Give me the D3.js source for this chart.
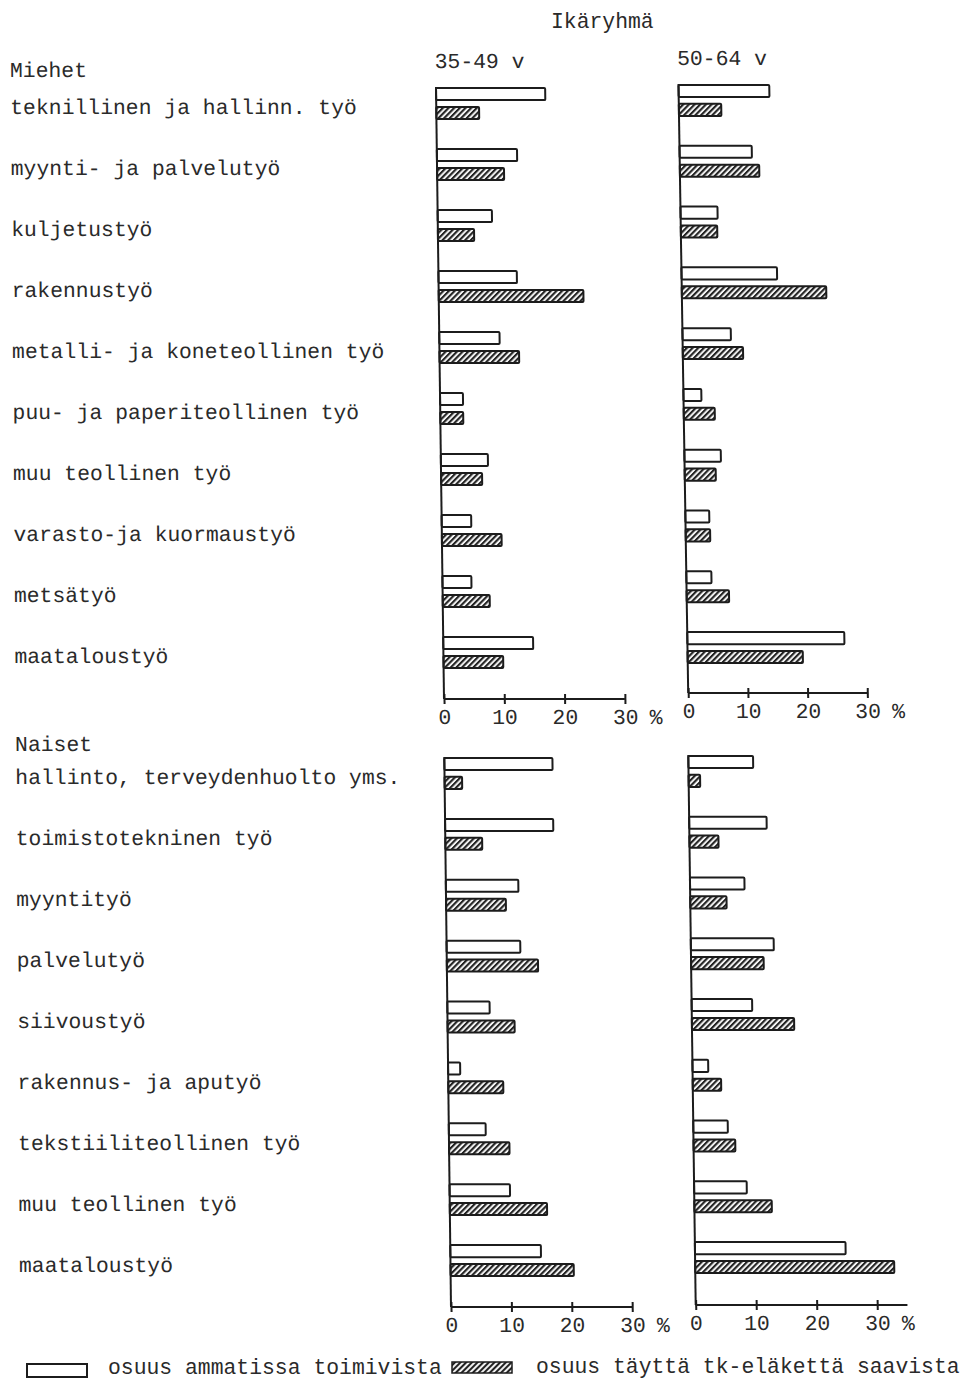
<!DOCTYPE html>
<html><head><meta charset="utf-8">
<script src="https://cdn.jsdelivr.net/npm/d3@7"></script>
<style>
html,body{margin:0;padding:0;background:#fff;}
svg{display:block;}
text{font-family:"Liberation Mono","DejaVu Sans Mono",monospace;fill:#2a2a2a;}
</style>
</head><body>
<svg id="chart" width="965" height="1381"></svg>
<script>
// ---------- data ----------
const title = "Ikäryhmä";
const ageGroups = ["35-49 v", "50-64 v"];
const sexGroups = ["Miehet", "Naiset"];
const seriesNames = ["osuus ammatissa toimivista", "osuus täyttä tk-eläkettä saavista"];
const tickValues = [0, 10, 20, 30];
const unitLabel = "%";

const menCategories = [
  "teknillinen ja hallinn. työ",
  "myynti- ja palvelutyö",
  "kuljetustyö",
  "rakennustyö",
  "metalli- ja koneteollinen työ",
  "puu- ja paperiteollinen työ",
  "muu teollinen työ",
  "varasto-ja kuormaustyö",
  "metsätyö",
  "maataloustyö"
];
const men3549Share   = [18.1, 13.3, 9.0, 13.0, 10.0, 3.8, 7.8, 4.9, 4.8, 14.9];
const men3549Pension = [7.1, 11.1, 6.0, 24.0, 13.2, 3.8, 6.8, 9.9, 7.8, 9.9];
const men5064Share   = [15.2, 12.1, 6.2, 16.0, 8.1, 3.0, 6.1, 4.0, 4.2, 26.3];
const men5064Pension = [7.1, 13.3, 6.1, 24.2, 10.1, 5.2, 5.2, 4.1, 7.1, 19.3];

const womenCategories = [
  "hallinto, terveydenhuolto yms.",
  "toimistotekninen työ",
  "myyntityö",
  "palvelutyö",
  "siivoustyö",
  "rakennus- ja aputyö",
  "tekstiiliteollinen työ",
  "muu teollinen työ",
  "maataloustyö"
];
const women3549Share   = [17.9, 17.9, 12.0, 12.2, 7.0, 2.0, 6.1, 10.0, 15.0];
const women3549Pension = [2.9, 6.1, 9.9, 15.1, 11.1, 9.1, 10.0, 16.1, 20.4];
const women5064Share   = [10.7, 12.8, 9.0, 13.7, 10.0, 2.6, 5.7, 8.7, 24.9];
const women5064Pension = [1.9, 4.8, 6.0, 12.0, 16.9, 4.7, 6.9, 12.8, 32.9];

// ---------- layout ----------
const INK = "#1c1c1c";
const FONT = 21.4;
const panels = [
  {cats: menCategories, share: men3549Share, pension: men3549Pension, header: ageGroups[0],
   x0: 436, y0: 88, y1: 668, axisY: 699, ppu: 6.03, slope: 8/611, axisEnd: 30},
  {cats: menCategories, share: men5064Share, pension: men5064Pension, header: ageGroups[1],
   x0: 678.5, y0: 85, y1: 663, axisY: 693, ppu: 5.97, slope: 9.7/608, axisEnd: 30},
  {cats: womenCategories, share: women3549Share, pension: women3549Pension, header: null,
   x0: 444.3, y0: 758, y1: 1276, axisY: 1307, ppu: 6.04, slope: 6.7/549, axisEnd: 30},
  {cats: womenCategories, share: women5064Share, pension: women5064Pension, header: null,
   x0: 688.3, y0: 756, y1: 1273, axisY: 1305, ppu: 6.05, slope: 7.4/549, axisEnd: 35}
];

const svg = d3.select("#chart");
const defs = svg.append("defs");
const pat = defs.append("pattern").attr("id", "hatch")
  .attr("patternUnits", "userSpaceOnUse").attr("width", 4).attr("height", 4)
  .attr("patternTransform", "rotate(45)");
pat.append("rect").attr("width", 4).attr("height", 4).attr("fill", "#f4f4f4");
pat.append("line").attr("x1", 1).attr("x2", 1).attr("y1", 0).attr("y2", 4)
  .attr("stroke", "#222").attr("stroke-width", 2.1);

// title
svg.append("text").attr("x", 551).attr("y", 28).attr("font-size", FONT).text(title);

const yScales = [];
panels.forEach((p, pi) => {
  const y = d3.scaleBand().domain(p.cats).range([p.y0, p.y1]).paddingInner(30 / 61).paddingOuter(0);
  yScales.push(y);
  const sub = d3.scaleBand().domain(["share", "pension"]).range([0, y.bandwidth()]).paddingInner(0.36);
  const x = d3.scaleLinear().domain([0, 30]).range([0, 30 * p.ppu]);
  const deg = Math.atan(p.slope) * 180 / Math.PI;
  const g = svg.append("g")
    .attr("transform", `translate(${p.x0},${p.y0}) skewX(${deg}) translate(0,${-p.y0})`);

  const rows = p.cats.map((c, i) => ({cat: c, share: p.share[i], pension: p.pension[i]}));

  g.selectAll("rect.share").data(rows).join("rect").attr("class", "share")
    .attr("x", x(0)).attr("y", d => y(d.cat) + sub("share"))
    .attr("width", d => x(d.share) - x(0)).attr("height", sub.bandwidth())
    .attr("rx", 1).attr("fill", "#fff").attr("stroke", INK).attr("stroke-width", 2);

  g.selectAll("rect.pension").data(rows).join("rect").attr("class", "pension")
    .attr("x", x(0)).attr("y", d => y(d.cat) + sub("pension"))
    .attr("width", d => x(d.pension) - x(0)).attr("height", sub.bandwidth())
    .attr("rx", 1).attr("fill", "url(#hatch)").attr("stroke", INK).attr("stroke-width", 2);

  // vertical axis
  g.append("line").attr("x1", x(0)).attr("x2", x(0)).attr("y1", p.y0 - 1).attr("y2", p.axisY)
    .attr("stroke", INK).attr("stroke-width", 2);

  // horizontal axis
  const ax = g.append("g").attr("transform", `translate(0,${p.axisY})`)
    .call(d3.axisBottom(x).tickValues(tickValues).tickSizeOuter(0).tickSizeInner(5).tickFormat(d3.format("d")));
  ax.attr("font-family", null).attr("font-size", null);
  ax.select(".domain").remove();
  ax.append("line").attr("x1", x(0)).attr("x2", x(p.axisEnd)).attr("y1", 0).attr("y2", 0)
    .attr("stroke", INK).attr("stroke-width", 2);
  ax.selectAll(".tick line").attr("y1", -5).attr("y2", 5).attr("stroke", INK).attr("stroke-width", 2);
  ax.selectAll(".tick text").attr("y", 25).attr("dy", null)
    .style("font-size", FONT + "px").attr("fill", "#2a2a2a");
  ax.append("text").attr("x", x(30) + 31).attr("y", 25).attr("text-anchor", "middle")
    .style("font-size", FONT + "px").text(unitLabel);

  if (p.header) {
    g.append("text").attr("x", -1).attr("y", p.y0 - 20).attr("font-size", FONT).text(p.header);
  }
});

// category labels on the left
const lg = svg.append("g")
  .attr("transform", `translate(10,77) skewX(${Math.atan(0.0075) * 180 / Math.PI}) translate(0,-77)`);
lg.append("text").attr("x", 0).attr("y", 77).attr("font-size", FONT).text(sexGroups[0]);
lg.append("text").attr("x", 0).attr("y", 751).attr("font-size", FONT).text(sexGroups[1]);
lg.selectAll("text.men").data(menCategories).join("text").attr("class", "men")
  .attr("x", 0).attr("y", d => yScales[0](d) + yScales[0].bandwidth() / 2 + 11)
  .attr("font-size", FONT).text(d => d);
lg.selectAll("text.women").data(womenCategories).join("text").attr("class", "women")
  .attr("x", 0).attr("y", d => yScales[2](d) + yScales[2].bandwidth() / 2 + 11)
  .attr("font-size", FONT).text(d => d);

// legend
const leg = svg.append("g");
leg.append("rect").attr("x", 27).attr("y", 1364).attr("width", 60).attr("height", 13)
  .attr("fill", "#fff").attr("stroke", INK).attr("stroke-width", 2);
leg.append("text").attr("x", 108).attr("y", 1374).attr("font-size", FONT).text(seriesNames[0]);
leg.append("rect").attr("x", 452).attr("y", 1362).attr("width", 60).attr("height", 11)
  .attr("fill", "url(#hatch)").attr("stroke", INK).attr("stroke-width", 1.5);
leg.append("text").attr("x", 536).attr("y", 1373).attr("font-size", FONT).text(seriesNames[1]);
</script>
</body></html>
